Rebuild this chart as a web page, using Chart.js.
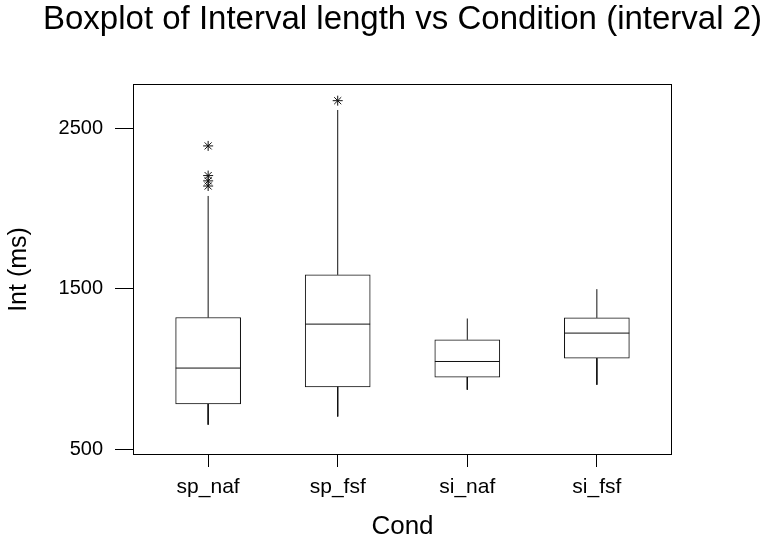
<!DOCTYPE html>
<html>
<head>
<meta charset="utf-8">
<script src="https://cdn.jsdelivr.net/npm/chart.js@4.4.1/dist/chart.umd.min.js"></script>
<style>
  html, body { margin: 0; padding: 0; background: #fff; }
</style>
</head>
<body>
<canvas id="boxChart" width="765" height="542"></canvas>
<script>

/* =========================
   DADOS
========================= */

const categories = ["sp_naf", "sp_fsf", "si_naf", "si_fsf"];
const positions = [1, 2, 3, 4];

const whiskerLow = [652, 703, 870, 901];
const q1Values = [781, 888, 949, 1067];
const medians = [1005, 1279, 1046, 1223];
const q3Values = [1320, 1586, 1181, 1318];
const whiskerHigh = [2078, 2614, 1314, 1497];

const outliersSpNaf = [2390, 2205, 2172, 2140];
const outliersSpFsf = [2672];
const outliersSiNaf = [];
const outliersSiFsf = [];

const yTicks = [500, 1500, 2500];

const chartTitle = "Boxplot of Interval length vs Condition (interval 2)";


/* =========================
   MONTAR DATASETS
========================= */

const HALF = 0.25;

const boxData = positions.map((p, i) => ({ x: p, y: [q1Values[i], q3Values[i]] }));

const medianData = [];
positions.forEach((p, i) => {
    medianData.push({ x: p - HALF, y: medians[i] });
    medianData.push({ x: p + HALF, y: medians[i] });
    medianData.push({ x: p, y: null });
});

const whiskerData = [];
positions.forEach((p, i) => {
    whiskerData.push({ x: p, y: q3Values[i] });
    whiskerData.push({ x: p, y: whiskerHigh[i] });
    whiskerData.push({ x: p, y: null });
    whiskerData.push({ x: p, y: q1Values[i] });
    whiskerData.push({ x: p, y: whiskerLow[i] });
    whiskerData.push({ x: p, y: null });
});

const outlierData = [];
[outliersSpNaf, outliersSpFsf, outliersSiNaf, outliersSiFsf].forEach((list, i) => {
    list.forEach(v => outlierData.push({ x: positions[i], y: v }));
});


/* =========================
   PLUGIN: MOLDURA + TÍTULO
========================= */

const framePlugin = {
    id: "frame",
    afterDraw(chart) {
        const { ctx, chartArea: a } = chart;
        ctx.save();
        ctx.strokeStyle = "#000";
        ctx.lineWidth = 1;
        ctx.strokeRect(a.left + 0.5, a.top + 0.5, a.right - a.left - 1, a.bottom - a.top - 1);

        ctx.fillStyle = "#000";
        ctx.font = "33px 'Liberation Sans', Arial, sans-serif";
        ctx.textAlign = "center";
        ctx.textBaseline = "alphabetic";
        ctx.fillText(chartTitle, (a.left + a.right) / 2, 29);
        ctx.restore();
    }
};

Chart.defaults.font.family = "'Liberation Sans', Arial, sans-serif";
Chart.defaults.color = "#000";

const lineColor = "#111";

new Chart(document.getElementById("boxChart"), {

    type: "bar",

    data: {
        datasets: [
            {
                type: "scatter",
                data: outlierData,
                pointStyle: "star",
                pointRadius: 5,
                borderColor: lineColor,
                borderWidth: 1,
                backgroundColor: lineColor
            },
            {
                type: "line",
                data: medianData,
                borderColor: lineColor,
                borderWidth: 1,
                pointRadius: 0,
                spanGaps: false,
                tension: 0
            },
            {
                type: "line",
                data: whiskerData,
                borderColor: lineColor,
                borderWidth: 1,
                pointRadius: 0,
                spanGaps: false,
                tension: 0
            },
            {
                type: "bar",
                data: boxData,
                backgroundColor: "#fff",
                borderColor: lineColor,
                borderWidth: 1,
                borderSkipped: false,
                barThickness: 65
            }
        ]
    },

    options: {
        responsive: false,
        animation: false,
        layout: {
            padding: { top: 84, right: 93, left: 0, bottom: 0 }
        },
        plugins: {
            legend: { display: false },
            tooltip: { enabled: false },
            title: { display: false }
        },
        scales: {
            x: {
                type: "linear",
                min: 0.42,
                max: 4.58,
                offset: false,
                afterBuildTicks: s => { s.ticks = positions.map(v => ({ value: v })); },
                afterFit: s => { s.height = 87; },
                ticks: {
                    callback: (v, i) => categories[i],
                    font: { size: 21 },
                    padding: 8,
                    autoSkip: false,
                    maxRotation: 0
                },
                grid: {
                    offset: false,
                    drawOnChartArea: false,
                    drawTicks: true,
                    tickLength: 12,
                    color: "#000"
                },
                border: { display: false },
                title: {
                    display: true,
                    text: "Cond",
                    font: { size: 26 },
                    padding: { top: 0, bottom: 0 }
                }
            },
            y: {
                type: "linear",
                min: 463,
                max: 2776,
                afterBuildTicks: s => { s.ticks = yTicks.map(v => ({ value: v })); },
                afterFit: s => { s.width = 133; },
                ticks: {
                    callback: v => String(v),
                    font: { size: 20 },
                    padding: 12
                },
                grid: {
                    drawOnChartArea: false,
                    drawTicks: true,
                    tickLength: 18,
                    color: "#000"
                },
                border: { display: false },
                title: {
                    display: true,
                    text: "Int (ms)",
                    font: { size: 25 },
                    padding: { top: 4, bottom: 0 }
                }
            }
        }
    },

    plugins: [framePlugin]

});

</script>
</body>
</html>
